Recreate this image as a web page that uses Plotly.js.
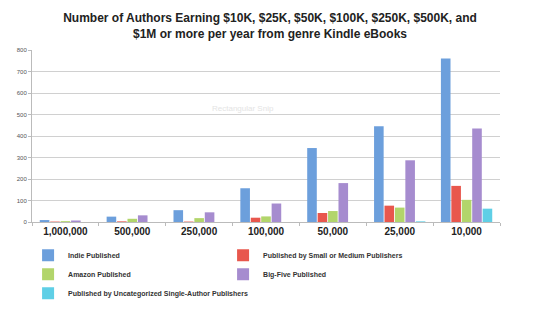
<!DOCTYPE html>
<html><head><meta charset="utf-8">
<script src="https://cdn.plot.ly/plotly-3.0.1.min.js"></script>
<style>html,body{margin:0;padding:0;background:#fff}</style>
</head><body><div id="chart" style="width:540px;height:314px"></div>
<script>
const categories = ["1,000,000","500,000","250,000","100,000","50,000","25,000","10,000"];
const seriesNames = ["Indie Published","Published by Small or Medium Publishers","Amazon Published","Big-Five Published","Published by Uncategorized Single-Author Publishers"];
const indie = [9, 25, 55, 157, 344, 445, 760];
const smallMedium = [2, 3, 2, 20, 42, 76, 168];
const amazon = [4, 15, 18, 26, 51, 67, 103];
const bigFive = [7, 31, 45, 86, 181, 287, 435];
const uncategorized = [0, 0, 0, 0, 0, 3, 62];
const seriesColors = ["#6c9fdc","#e8574d","#b2d56b","#a68ccf","#5fcfe6"];
const allValues = [indie, smallMedium, amazon, bigFive, uncategorized];

const data = allValues.map((v,i)=>({
  type:'bar', x:categories, y:v, name:seriesNames[i],
  marker:{color:seriesColors[i], line:{width:0}}
}));

const layout = {
  width:540, height:314,
  margin:{l:32,r:40,t:50,b:92},
  paper_bgcolor:'#fff', plot_bgcolor:'#fff',
  barmode:'group', bargap:0.22, bargroupgap:0.08,
  title:{text:'<b>Number of Authors Earning $10K, $25K, $50K, $100K, $250K, $500K, and<br>$1M or more per year from genre Kindle eBooks</b>',
    font:{family:'Liberation Sans, Arial', size:12, color:'#222'}, x:0.5, xanchor:'center',
    yref:'container', y:0.93, yanchor:'top', automargin:false},
  xaxis:{type:'category', tickson:'boundaries', ticks:'outside', ticklen:3, tickcolor:'#bbb',
    showline:true, linecolor:'#bbb', linewidth:1,
    tickfont:{family:'Liberation Sans, Arial', size:10, color:'#222', weight:'bold'}},
  yaxis:{range:[0,800], dtick:100, showgrid:true, gridcolor:'#d0d0d0', zeroline:false,
    showline:true, linecolor:'#bbb', ticks:'outside', ticklen:3, tickcolor:'#bbb',
    tickfont:{family:'Liberation Sans, Arial', size:6, color:'#555'}},
  legend:{orientation:'h', xref:'container', x:0.052, xanchor:'left', yref:'container', y:0.233, yanchor:'top',
    entrywidth:150, entrywidthmode:'pixels', itemwidth:30, tracegroupgap:0,
    font:{family:'Liberation Sans, Arial', size:7, color:'#333', weight:'bold'}},
  annotations:[{text:'Rectangular Snip', x:0.45, y:0.7, xref:'paper', yref:'paper', showarrow:false,
    font:{family:'Liberation Sans, Arial', size:8, color:'#e4e4e4'}}]
};
Plotly.newPlot('chart', data, layout, {displayModeBar:false, staticPlot:true});
</script></body></html>
